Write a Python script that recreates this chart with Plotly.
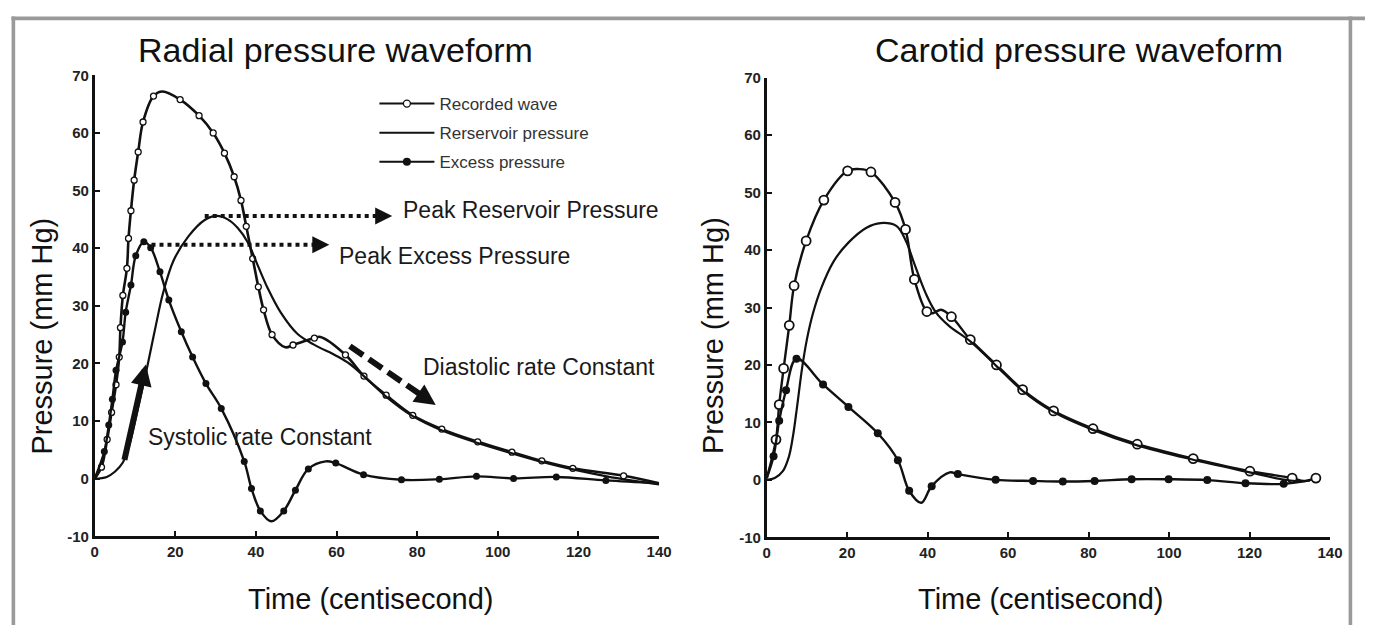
import plotly.graph_objects as go

# The page keeps the browser's default 8px body margin, so the figure is sized
# to fit inside the 1373x633 window exactly; positions below are given in
# reference-image pixels and converted with px()/py().
OX, OY = 8, 8
FW, FH = 1373 - 2 * OX, 633 - 2 * OY
INK = "#111111"

# ---------------- Radial pressure waveform (left) ----------------
rad_rec_mx = [1.7, 3.1, 4.2, 5.3, 6.1, 6.4, 7.0, 8.0, 8.4, 9.0, 9.8, 10.8, 12.0, 14.6, 21.2, 25.9,
              29.4, 32.2, 34.6, 36.3, 37.6, 39.2, 40.6, 41.9, 44.0, 49.2, 54.5, 62.2, 66.8, 72.3,
              78.9, 86.1, 95.0, 103.5, 110.9, 118.6, 131.2]
rad_rec_my = [2.0, 6.8, 11.5, 16.3, 21.1, 26.2, 31.8, 36.5, 41.7, 46.5, 51.8, 56.7, 61.9, 66.4, 65.8, 63.0,
              60.0, 56.5, 52.4, 48.3, 43.8, 38.2, 33.3, 29.3, 25.0, 23.2, 24.4, 21.5, 17.8, 14.5,
              11.0, 8.6, 6.4, 4.6, 3.1, 1.8, 0.5]
rad_rec_extra_x = [0.0, 16.8, 47.3, 56.0, 140.0]
rad_rec_extra_y = [0.0, 67.2, 22.8, 24.6, -0.8]

rad_res_x = [0, 3, 5, 7, 8.6, 11.0, 13.1, 15.0, 17.0, 19.6, 23.3, 27.3, 30.3, 33.0, 35.5, 38.0, 40.4,
             42.9, 46.1, 50.2, 54.3, 60.0, 63.3, 67.4, 72.2, 78.8, 86.0, 95.0, 103.5, 111.0, 118.6,
             127.0, 133.0, 140.0]
rad_res_y = [0, 0.3, 1.2, 2.8, 5.8, 13.0, 19.6, 26.0, 32.3, 37.9, 42.1, 44.9, 45.6, 45.0, 43.5, 41.0, 37.1,
             33.1, 28.9, 25.2, 23.3, 21.3, 19.9, 17.4, 14.3, 10.9, 8.4, 6.2, 4.4, 2.9, 1.6,
             0.4, -0.3, -1.0]

rad_exc_mx = [2.4, 3.5, 4.4, 5.3, 6.9, 7.7, 9.0, 10.2, 12.2, 13.9, 16.2, 18.4, 21.5, 24.3, 27.6, 31.4,
              37.1, 38.9, 41.1, 46.9, 49.8, 53.0, 59.8, 66.7, 76.1, 85.5, 94.7, 103.9, 114.5, 126.8]
rad_exc_my = [4.7, 9.3, 13.8, 18.8, 23.7, 28.9, 33.6, 38.7, 41.1, 40.1, 35.9, 31.0, 25.5, 21.1, 16.5, 12.2,
              3.0, -1.7, -5.6, -5.6, -2.0, 1.7, 2.7, 0.7, -0.2, -0.1, 0.4, 0.05, 0.3, -0.3]
rad_exc_extra_x = [0.0, 43.8, 57.3, 140.0]
rad_exc_extra_y = [0.0, -7.4, 3.0, -0.8]

# ---------------- Carotid pressure waveform (right) ----------------
car_rec_mx = [2.3, 3.1, 4.2, 5.6, 6.8, 9.8, 14.2, 20.1, 25.9, 31.9, 34.5, 36.7, 39.8, 45.9, 50.6,
              57.1, 63.6, 71.3, 81.1, 92.1, 106.0, 120.1, 130.6, 136.5]
car_rec_my = [7.0, 13.1, 19.4, 26.9, 33.8, 41.6, 48.7, 53.8, 53.6, 48.3, 43.6, 34.9, 29.3, 28.4, 24.4,
              20.0, 15.7, 12.0, 8.9, 6.2, 3.7, 1.5, 0.3, 0.3]
car_rec_extra_x = [0.0, 23.0, 41.3, 43.3, 133.5]
car_rec_extra_y = [0.3, 54.1, 29.0, 29.6, -0.2]

car_res_x = [0, 2, 4, 5.5, 6.5, 7.5, 8.8, 10.0, 11.5, 13.5, 16.6, 20.3, 24.8, 28.3, 32.2, 34.6, 36.7,
             39.5, 42.0, 45.3, 50.6, 57.1, 63.6, 71.3, 81.1, 92.1, 106.0, 120.1, 128.0, 133.0]
car_res_y = [0, 0.3, 1.5, 4.0, 7.5, 12.5, 19.5, 24.5, 29.0, 33.3, 38.0, 41.3, 43.9, 44.7, 44.2, 41.6, 37.6,
             32.5, 29.2, 26.8, 24.1, 19.8, 15.5, 11.8, 8.7, 6.0, 3.5, 1.3, 0.1, -0.3]

car_exc_mx = [1.7, 3.1, 4.8, 7.4, 14.0, 20.3, 27.6, 32.6, 35.4, 41.0, 47.5, 56.9, 66.2, 73.6, 81.5,
              90.7, 99.9, 109.5, 119.0, 128.5]
car_exc_my = [4.1, 10.3, 15.6, 21.1, 16.6, 12.7, 8.1, 3.4, -1.9, -1.1, 1.0, 0.0, -0.2, -0.3, -0.2,
              0.1, 0.1, -0.05, -0.6, -0.7]
car_exc_extra_x = [0.0, 38.4, 45.5, 135.0]
car_exc_extra_y = [0.3, -4.0, 1.3, -0.1]

x_ticks = [0, 20, 40, 60, 80, 100, 120, 140]
y_ticks = [-10, 0, 10, 20, 30, 40, 50, 60, 70]
y_tick_text = ["-10", "0", "10", "20", "30", "40", "50", "60", "70"]
legend_names = ["Recorded wave", "Rerservoir pressure", "Excess pressure"]


def merged(mx, my, ex, ey):
    pts = sorted(zip(list(mx) + list(ex), list(my) + list(ey)))
    return [p[0] for p in pts], [p[1] for p in pts]


def px(v):
    return (v - OX) / FW


def py(v):
    return 1 - (v - OY) / FH


fig = go.Figure()

open_small = dict(symbol="circle", size=6, color="white", line=dict(color=INK, width=1.3))
fill_small = dict(symbol="circle", size=7, color=INK, line=dict(color=INK, width=0))
open_big = dict(symbol="circle", size=9, color="white", line=dict(color=INK, width=1.8))
fill_big = dict(symbol="circle", size=8, color=INK, line=dict(color=INK, width=0))

# legend-only entries
fig.add_trace(go.Scatter(x=[None], y=[None], mode="lines+markers", name=legend_names[0],
                         line=dict(color=INK, width=2), marker=dict(open_small, size=7),
                         legendgroup="a", xaxis="x", yaxis="y"))
fig.add_trace(go.Scatter(x=[None], y=[None], mode="lines", name=legend_names[1],
                         line=dict(color=INK, width=2), legendgroup="b", xaxis="x", yaxis="y"))
fig.add_trace(go.Scatter(x=[None], y=[None], mode="lines+markers", name=legend_names[2],
                         line=dict(color=INK, width=2), marker=dict(fill_small, size=8),
                         legendgroup="c", xaxis="x", yaxis="y"))


def add_series(lx, ly, mx, my, xa, ya, lw, marker):
    fig.add_trace(go.Scatter(x=lx, y=ly, mode="lines", showlegend=False, hoverinfo="skip",
                             line=dict(color=INK, width=lw, shape="spline", smoothing=1.0),
                             xaxis=xa, yaxis=ya))
    if mx is not None:
        fig.add_trace(go.Scatter(x=mx, y=my, mode="markers", showlegend=False,
                                 marker=marker, xaxis=xa, yaxis=ya))


lx, ly = merged(rad_rec_mx, rad_rec_my, rad_rec_extra_x, rad_rec_extra_y)
add_series(lx, ly, rad_rec_mx, rad_rec_my, "x", "y", 2.6, open_small)
add_series(rad_res_x, rad_res_y, None, None, "x", "y", 2.2, None)
lx, ly = merged(rad_exc_mx, rad_exc_my, rad_exc_extra_x, rad_exc_extra_y)
add_series(lx, ly, rad_exc_mx, rad_exc_my, "x", "y", 2.4, fill_small)

lx, ly = merged(car_rec_mx, car_rec_my, car_rec_extra_x, car_rec_extra_y)
add_series(lx, ly, car_rec_mx, car_rec_my, "x2", "y2", 2.4, open_big)
add_series(car_res_x, car_res_y, None, None, "x2", "y2", 2.2, None)
lx, ly = merged(car_exc_mx, car_exc_my, car_exc_extra_x, car_exc_extra_y)
add_series(lx, ly, car_exc_mx, car_exc_my, "x2", "y2", 2.4, fill_big)

tick_font = dict(family="Liberation Sans, Arial", size=15, color="#222222", weight="bold")
ax_common = dict(showline=True, linecolor=INK, linewidth=2.5, ticks="inside", ticklen=6, tickwidth=2,
                 tickcolor=INK, showgrid=False, zeroline=False, tickfont=tick_font, fixedrange=True)

fig.update_layout(
    width=FW, height=FH, margin=dict(l=0, r=0, t=0, b=0, pad=0),
    paper_bgcolor="white", plot_bgcolor="white", showlegend=True,
    xaxis=dict(ax_common, domain=[px(91.7), px(663.3)], range=[0, 140], tickvals=x_ticks, anchor="y"),
    yaxis=dict(ax_common, domain=[py(542), py(68)], range=[-10, 70], tickvals=y_ticks,
               ticktext=y_tick_text, anchor="x"),
    xaxis2=dict(ax_common, domain=[px(772.3), px(1342.7)], range=[0, 140], tickvals=x_ticks, anchor="y2"),
    yaxis2=dict(ax_common, domain=[py(543), py(70.5)], range=[-10, 70], tickvals=y_ticks,
                ticktext=y_tick_text, anchor="x2"),
    legend=dict(x=px(375), y=py(79), xanchor="left", yanchor="top", bgcolor="rgba(0,0,0,0)",
                font=dict(family="Liberation Sans, Arial", size=17, color="#333333"),
                itemwidth=55, tracegroupgap=4, borderwidth=0),
)

TXT = "Liberation Sans, Arial"
ann = []
# titles
for t, cx in (("Radial pressure waveform", 336), ("Carotid pressure waveform", 1089)):
    ann.append(dict(text=t, x=px(cx), y=py(42), xref="paper", yref="paper", xanchor="center",
                    yanchor="middle", showarrow=False, font=dict(family=TXT, size=34, color=INK)))
# axis titles
for cx in (372, 1050):
    ann.append(dict(text="Time (centisecond)", x=px(cx), y=py(606), xref="paper", yref="paper",
                    xanchor="center", yanchor="middle", showarrow=False,
                    font=dict(family=TXT, size=29, color=INK)))
for cx in (38, 718):
    ann.append(dict(text="Pressure (mm Hg)", x=px(cx), y=py(336), xref="paper", yref="paper",
                    xanchor="center", yanchor="middle", showarrow=False, textangle=-90,
                    font=dict(family=TXT, size=29, color=INK)))
# notes on radial panel
note_font = dict(family=TXT, size=23, color="#1a1a1a")
for t, xx, yy in [("Peak Reservoir Pressure", 76.0, 46.6), ("Peak Excess Pressure", 60.0, 38.6),
                  ("Diastolic rate Constant", 81.0, 19.3), ("Systolic rate Constant", 12.8, 7.25)]:
    ann.append(dict(text=t, x=xx, y=yy, xref="x", yref="y", xanchor="left", yanchor="middle",
                    showarrow=False, font=note_font))

# arrows: (x0, y0, x1, y1, dash, width, head width)
arrows = [
    (27.3, 45.6, 73.8, 45.6, "dot", 4, 3.4),
    (14.1, 40.6, 58.2, 40.6, "dot", 4, 3.4),
    (63.3, 23.0, 84.6, 12.8, "16px,7px", 6, 4.2),
]
shapes = []
for x0, y0, x1, y1, dash, w, hw in arrows:
    k = 0.5 if dash == "dot" else 1.0
    shapes.append(dict(type="line", xref="x", yref="y", x0=x0, y0=y0,
                       x1=x1 - 0.13 * (x1 - x0) * k, y1=y1 - 0.13 * (y1 - y0),
                       line=dict(color=INK, width=w, dash=dash)))
    ann.append(dict(text="", x=x1, y=y1, ax=x1 - 0.1 * (x1 - x0) * k, ay=y1 - 0.1 * (y1 - y0),
                    xref="x", yref="y", axref="x", ayref="y",
                    showarrow=True, arrowhead=2, arrowsize=1, arrowwidth=hw, arrowcolor=INK))
# solid systolic arrow
ann.append(dict(text="", x=12.7, y=19.8, ax=7.3, ay=3.0, xref="x", yref="y", axref="x", ayref="y",
                showarrow=True, arrowhead=2, arrowsize=0.7, arrowwidth=6, arrowcolor=INK))

# grey frame (left, top, right)
FR = "#9a9a9a"
shapes += [
    dict(type="line", xref="paper", yref="paper", x0=px(9.4), x1=px(9.4), y0=py(7.4), y1=-0.2,
         line=dict(color=FR, width=3.6)),
    dict(type="line", xref="paper", yref="paper", x0=px(7.4), x1=1.01, y0=py(9.4), y1=py(9.4),
         line=dict(color=FR, width=3.6)),
    dict(type="line", xref="paper", yref="paper", x0=px(1363.4), x1=px(1363.4), y0=py(7.4), y1=-0.2,
         line=dict(color=FR, width=3.6)),
]

fig.update_layout(annotations=ann, shapes=shapes)
fig.write_html("out.html", config={"displayModeBar": False})
